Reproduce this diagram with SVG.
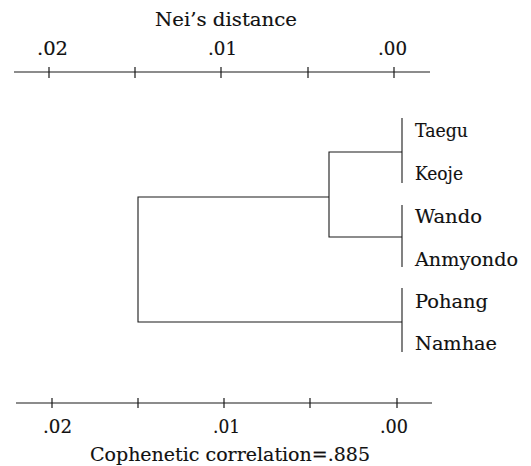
<svg xmlns="http://www.w3.org/2000/svg" width="531" height="466" viewBox="0 0 531 466">
  <style>
    .ax { stroke: #1a1a1a; stroke-width: 1.2; fill: none; }
    .br { stroke: #1a1a1a; stroke-width: 1.1; fill: none; }
    .t { font-family: "DejaVu Serif", serif; font-size: 18.5px; fill: #111; stroke: #111; stroke-width: 0.15; }
  </style>
  <rect width="531" height="466" fill="#fff"/>

  <!-- top distance scale -->
  <g id="axis-top">
    <text class="t" x="226" y="26" text-anchor="middle" textLength="142" lengthAdjust="spacingAndGlyphs">Nei’s distance</text>
    <text class="t" x="37" y="55" textLength="31" lengthAdjust="spacingAndGlyphs">.02</text>
    <text class="t" x="208" y="55" textLength="29" lengthAdjust="spacingAndGlyphs">.01</text>
    <text class="t" x="378" y="55" textLength="29" lengthAdjust="spacingAndGlyphs">.00</text>
    <path class="ax" d="M14 72H430M49 67V78M135 67V78M221 67V78M308 67V78M394 67V78"/>
  </g>

  <!-- bottom distance scale -->
  <g id="axis-bottom">
    <path class="ax" d="M16 403H432M52 398V408M138 398V408M224 398V408M310 398V408M397 398V408"/>
    <text class="t" x="43" y="433" textLength="29" lengthAdjust="spacingAndGlyphs">.02</text>
    <text class="t" x="213" y="433" textLength="27" lengthAdjust="spacingAndGlyphs">.01</text>
    <text class="t" x="380" y="433" textLength="28" lengthAdjust="spacingAndGlyphs">.00</text>
    <text class="t" x="230" y="461" text-anchor="middle" textLength="280" lengthAdjust="spacingAndGlyphs">Cophenetic correlation=.885</text>
  </g>

  <!-- leaves -->
  <g id="taegu"><text class="t" x="415" y="137" textLength="53" lengthAdjust="spacingAndGlyphs">Taegu</text></g>
  <g id="keoje"><text class="t" x="415" y="180" textLength="48" lengthAdjust="spacingAndGlyphs">Keoje</text></g>
  <g id="wando"><text class="t" x="415" y="223" textLength="67" lengthAdjust="spacingAndGlyphs">Wando</text></g>
  <g id="anmyondo"><text class="t" x="415" y="266" textLength="103" lengthAdjust="spacingAndGlyphs">Anmyondo</text></g>
  <g id="pohang"><text class="t" x="415" y="308" textLength="73" lengthAdjust="spacingAndGlyphs">Pohang</text></g>
  <g id="namhae"><text class="t" x="415" y="350" textLength="82" lengthAdjust="spacingAndGlyphs">Namhae</text></g>

  <!-- dendrogram branches -->
  <g id="connectors">
    <path class="br" d="M402 118V183"/>
    <path class="br" d="M402 205V267"/>
    <path class="br" d="M402 288V352"/>
    <path class="br" d="M402 152H329V237H402"/>
    <path class="br" d="M329 197H138V322H402"/>
  </g>
</svg>
